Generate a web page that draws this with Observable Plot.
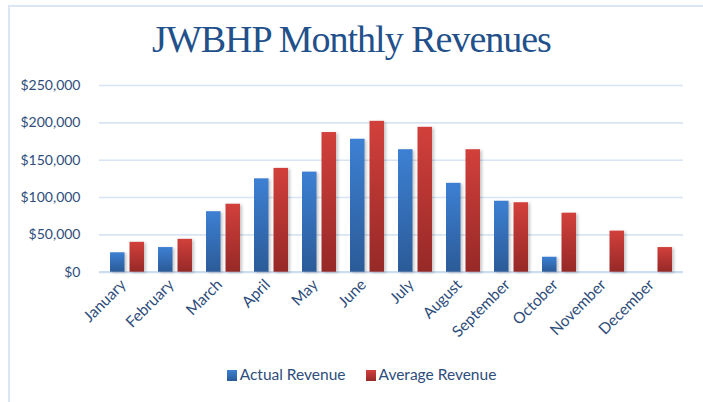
<!DOCTYPE html>
<html>
<head>
<meta charset="utf-8">
<script src="https://cdn.jsdelivr.net/npm/d3@7"></script>
<script src="https://cdn.jsdelivr.net/npm/@observablehq/plot@0.6"></script>
<style>
  html, body { margin: 0; padding: 0; background: #fff; }
  #wrap { position: relative; width: 703px; height: 402px; overflow: hidden; background: #fff; }
  #frame { position: absolute; left: 8px; top: 5px; width: 720px; height: 420px;
           border-left: 2px solid #dbe6f4; border-top: 2px solid #dbe6f4; box-sizing: border-box; }
  #title { position: absolute; left: 0; width: 703px; top: 17px; text-align: center;
           font-family: "Liberation Serif", serif; font-size: 38px; letter-spacing: -1px;
           color: #22508a; line-height: 44px; white-space: nowrap; }
  #chart { position: absolute; left: 0; top: 0; }
  #legend { position: absolute; left: 10px; width: 703px; top: 365px; text-align: center;
            font-family: Lato, "Noto Sans", sans-serif; font-size: 15.5px; color: #2e4d7b; white-space: nowrap; }
  #legend span.item { display: inline-block; margin: 0 10px; }
  #legend span.sw { display: inline-block; width: 10px; height: 11px; margin-right: 3px; vertical-align: -1px; }
  .bars rect { filter: drop-shadow(2px 1px 1.5px rgba(0,0,0,0.22)); }
</style>
</head>
<body>
<div id="wrap">
  <div id="frame"></div>
  <div id="chart"></div>
  <div id="title">JWBHP Monthly Revenues</div>
  <div id="legend"></div>
</div>
<script>
const months = ["January","February","March","April","May","June","July","August","September","October","November","December"];
const actualRevenue = [26000, 33000, 81000, 125000, 134000, 178000, 164000, 119000, 95000, 20000, null, null];
const averageRevenue = [40000, 44000, 91000, 139000, 187000, 202000, 194000, 164000, 93000, 79000, 55000, 33000];
const yTicks = [0, 50000, 100000, 150000, 200000, 250000];
const seriesNames = ["Actual Revenue", "Average Revenue"];

const actualData = months.map((m, i) => ({month: m, value: actualRevenue[i]})).filter(d => d.value != null);
const averageData = months.map((m, i) => ({month: m, value: averageRevenue[i]}));

const fmt = d3.format("$,");

const plot = Plot.plot({
  width: 703,
  height: 345,
  marginTop: 85,
  marginBottom: 73.3,
  marginLeft: 99,
  marginRight: 20,
  style: {fontFamily: "Lato, 'Noto Sans', sans-serif", fontSize: "14px", color: "#2e4d7b", background: "transparent"},
  x: {domain: months, paddingInner: 0.29, paddingOuter: 0.145, label: null},
  y: {domain: [0, 250000], label: null},
  marks: [
    Plot.ruleY(yTicks.filter(d => d > 0), {stroke: "#d8e4f2", strokeWidth: 1.6}),
    Plot.ruleY([0], {stroke: "#cddcee", strokeWidth: 2.2}),
    Plot.barY(actualData, {x: "month", y: "value", fill: "url(#gradBlue)", insetRight: 19.5, className: "bars"}),
    Plot.barY(averageData, {x: "month", y: "value", fill: "url(#gradRed)", insetLeft: 19.5, className: "bars"}),
    Plot.axisY({ticks: yTicks, tickFormat: fmt, tickSize: 0, tickPadding: 19, fontSize: 14, fill: "#2e4d7b"}),
    Plot.axisX({tickSize: 0, tickPadding: 10, dx: -4, tickRotate: -45, fontSize: 15.5, fill: "#2e4d7b"})
  ]
});

// gradients for bars
const svg = d3.select(plot);
const defs = svg.insert("defs", ":first-child");
const g1 = defs.append("linearGradient").attr("id", "gradBlue").attr("x1", 0).attr("y1", 0).attr("x2", 0).attr("y2", 1);
g1.append("stop").attr("offset", "0%").attr("stop-color", "#3d80d3");
g1.append("stop").attr("offset", "100%").attr("stop-color", "#2b5b98");
const g2 = defs.append("linearGradient").attr("id", "gradRed").attr("x1", 0).attr("y1", 0).attr("x2", 0).attr("y2", 1);
g2.append("stop").attr("offset", "0%").attr("stop-color", "#d2403b");
g2.append("stop").attr("offset", "100%").attr("stop-color", "#962927");

document.getElementById("chart").appendChild(plot);

const legend = d3.select("#legend");
seriesNames.forEach((name, i) => {
  const item = legend.append("span").attr("class", "item");
  item.append("span").attr("class", "sw")
    .style("background", `linear-gradient(${i === 0 ? "#3d80d3, #2b5b98" : "#d2403b, #962927"})`);
  item.append("span").text(name);
});
</script>
</body>
</html>
